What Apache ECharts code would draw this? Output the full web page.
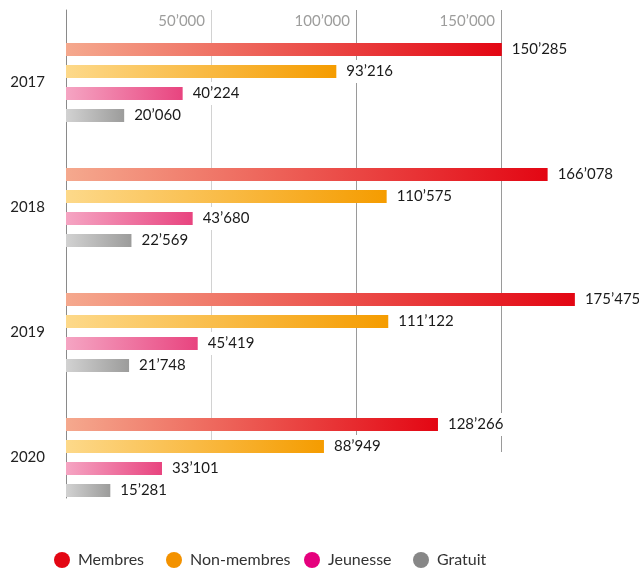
<!DOCTYPE html>
<html>
<head>
<meta charset="utf-8">
<script src="https://cdn.jsdelivr.net/npm/echarts@6/dist/echarts.min.js"></script>
<style>
html,body{margin:0;padding:0;background:#fff;}
#chart{width:639px;height:568px;}
</style>
</head>
<body>
<div id="chart"></div>
<script>
var years = ['2017', '2018', '2019', '2020'];
var seriesNames = ['Membres', 'Non-membres', 'Jeunesse', 'Gratuit'];
var membres = [150285, 166078, 175475, 128266];
var nonMembres = [93216, 110575, 111122, 88949];
var jeunesse = [40224, 43680, 45419, 33101];
var gratuit = [20060, 22569, 21748, 15281];
var axisMin = 0, axisMax = 190000, axisStep = 50000;

function fmt(v) {
  return String(v).replace(/\B(?=(\d{3})+(?!\d))/g, '\u2019');
}
function grad(a, b) {
  return new echarts.graphic.LinearGradient(0, 0, 1, 0, [
    { offset: 0, color: a }, { offset: 1, color: b }
  ]);
}
var FONT = 'Lato';
var LEGEND_FONT = "'Liberation Sans Narrow', Lato";
var gradients = [
  grad('#f5a98e', '#e30613'),
  grad('#fdd98a', '#f59c00'),
  grad('#f5a5c3', '#e8447f'),
  grad('#d2d2d2', '#9c9c9b')
];
var legendColors = ['#e30613', '#f39200', '#e5007d', '#878787'];
var legendLefts = [54, 166, 304, 413];
var values = [membres, nonMembres, jeunesse, gratuit];

var chart = echarts.init(document.getElementById('chart'), null, { renderer: 'canvas' });
var option = {
  animation: false,
  backgroundColor: '#fff',
  textStyle: { fontFamily: FONT },
  grid: [
    { left: 66, right: 22, top: 20, height: 500 },
    { left: 66, right: 22, top: 10, height: 442 },
    { left: 66, right: 22, top: 10, height: 488 }
  ],
  xAxis: [
    { gridIndex: 0, type: 'value', min: axisMin, max: axisMax, interval: axisStep, show: false },
    {
      gridIndex: 1, type: 'value', position: 'top', min: axisMin, max: axisMax, interval: axisStep,
      axisLine: { show: false }, axisTick: { show: false },
      axisLabel: {
        inside: true, margin: 4, align: 'right', padding: [0, 6, 0, 0],
        color: '#9d9d9c', fontSize: 15, fontFamily: FONT,
        formatter: function (v) { return (v === 0 || v % axisStep !== 0) ? '' : fmt(v); }
      },
      splitLine: { show: true, lineStyle: { width: 1, color: ['#888888', '#d2d2d2', '#9a9a9a', '#9a9a9a', 'rgba(0,0,0,0)'] } }
    },
    { gridIndex: 2, type: 'value', min: 0, max: 1, show: false }
  ],
  yAxis: [
    {
      gridIndex: 0, type: 'category', inverse: true, data: years,
      axisLine: { show: false }, axisTick: { show: false },
      axisLabel: { margin: 21, color: '#222', fontSize: 15, fontFamily: FONT, padding: [5, 0, 0, 0] }
    },
    { gridIndex: 1, type: 'value', min: 0, max: 1, show: false },
    {
      gridIndex: 2, type: 'value', min: 0, max: 1,
      axisLine: { show: true, lineStyle: { color: '#8a8a8a', width: 1 } },
      axisTick: { show: false }, axisLabel: { show: false }, splitLine: { show: false }
    }
  ],
  legend: seriesNames.map(function (n, i) {
    return {
      left: legendLefts[i], top: 552, padding: 0, icon: 'circle', itemWidth: 16, itemHeight: 16,
      textStyle: { fontSize: 16, color: '#333', fontFamily: LEGEND_FONT, padding: [5, 0, 0, 3] },
      data: [{ name: n, itemStyle: { color: legendColors[i] } }]
    };
  }),
  series: seriesNames.map(function (n, i) {
    return {
      name: n, type: 'bar', xAxisIndex: 0, yAxisIndex: 0,
      barWidth: 13, barGap: '69%',
      data: values[i],
      itemStyle: { color: gradients[i] },
      label: {
        show: true, position: 'right', distance: 6,
        color: '#1a1a1a', fontSize: 15, fontFamily: FONT,
        backgroundColor: '#fff', padding: [4, 4, 4, 4],
        formatter: function (p) { return fmt(p.value); }
      }
    };
  })
};
chart.setOption(option);
</script>
</body>
</html>
